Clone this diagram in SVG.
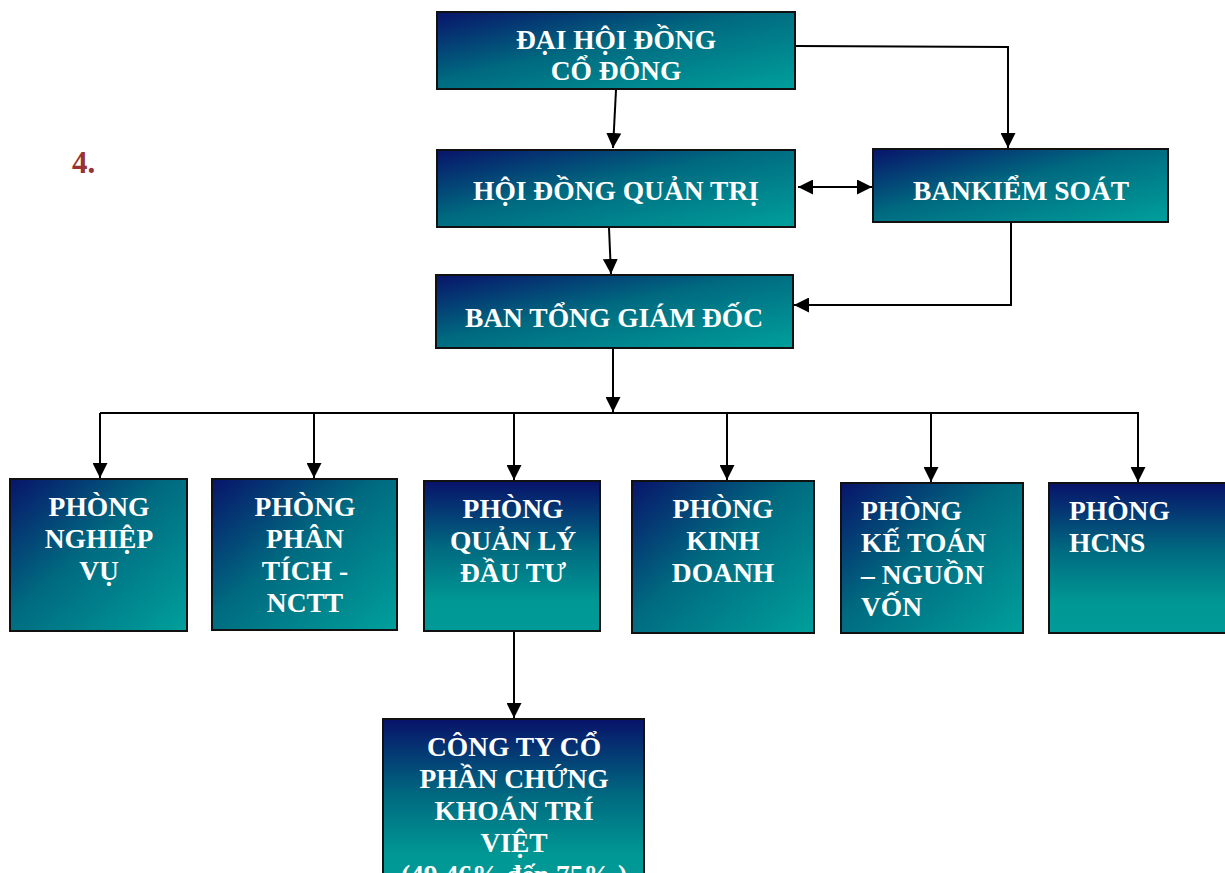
<svg xmlns="http://www.w3.org/2000/svg" width="1225" height="873" viewBox="0 0 1225 873">
<defs>
<linearGradient id="gd" x1="0" y1="0" x2="1" y2="1">
<stop offset="0" stop-color="#08146a"/>
<stop offset="0.45" stop-color="#006a80"/>
<stop offset="1" stop-color="#00a09c"/>
</linearGradient>
<linearGradient id="gv" x1="0" y1="0" x2="0" y2="1">
<stop offset="0" stop-color="#08126a"/>
<stop offset="0.45" stop-color="#006a80"/>
<stop offset="0.8" stop-color="#009894"/>
<stop offset="1" stop-color="#009a98"/>
</linearGradient>
<marker id="ah" viewBox="0 0 10 10" refX="10" refY="5" markerWidth="15" markerHeight="15" markerUnits="userSpaceOnUse" orient="auto-start-reverse">
<path d="M0,0 L10,5 L0,10 z" fill="#000"/>
</marker>
<style>
.bd{fill:url(#gd);stroke:#111;stroke-width:2}
.bv{fill:url(#gv);stroke:#111;stroke-width:2}
.t{font-family:"Liberation Serif","Times New Roman",serif;font-weight:bold;font-size:27.5px;fill:#fff}
.c{text-anchor:middle}
.ln{fill:none;stroke:#000;stroke-width:2}
</style>
</defs>
<rect width="1225" height="873" fill="#fff"/>
<text x="72" y="173" font-family="Liberation Serif, serif" font-weight="bold" font-size="31" fill="#993333">4.</text>
<g id="connectors">
<line class="ln" x1="616" y1="90" x2="613" y2="148" marker-end="url(#ah)"/>
<polyline class="ln" points="796,46 1008,47 1008,148" marker-end="url(#ah)"/>
<line class="ln" x1="798" y1="187" x2="872" y2="187" marker-start="url(#ah)" marker-end="url(#ah)"/>
<line class="ln" x1="609" y1="228" x2="611" y2="274" marker-end="url(#ah)"/>
<polyline class="ln" points="1011,222 1011,305 794,305" marker-end="url(#ah)"/>
<line class="ln" x1="613" y1="349" x2="613" y2="412" marker-end="url(#ah)"/>
<line class="ln" x1="100" y1="413" x2="1139" y2="413"/>
<line class="ln" x1="100" y1="413" x2="100" y2="478" marker-end="url(#ah)"/>
<line class="ln" x1="314" y1="413" x2="314" y2="478" marker-end="url(#ah)"/>
<line class="ln" x1="514" y1="413" x2="514" y2="480" marker-end="url(#ah)"/>
<line class="ln" x1="727" y1="413" x2="727" y2="480" marker-end="url(#ah)"/>
<line class="ln" x1="931" y1="413" x2="931" y2="482" marker-end="url(#ah)"/>
<line class="ln" x1="1138" y1="413" x2="1138" y2="482" marker-end="url(#ah)"/>
<line class="ln" x1="514" y1="632" x2="514" y2="718" marker-end="url(#ah)"/>
</g>
<g id="dhdcd">
<rect class="bd" x="437" y="12" width="358" height="77"/>
<text class="t c" x="616" y="49">ĐẠI HỘI ĐỒNG</text>
<text class="t c" x="616" y="80">CỔ ĐÔNG</text>
</g>
<g id="hdqt">
<rect class="bd" x="437" y="150" width="358" height="77"/>
<text class="t c" x="616" y="200">HỘI ĐỒNG QUẢN TRỊ</text>
</g>
<g id="bks">
<rect class="bd" x="873" y="149" width="295" height="73"/>
<text class="t c" x="1021" y="200">BANKIỂM SOÁT</text>
</g>
<g id="btgd">
<rect class="bd" x="436" y="275" width="357" height="73"/>
<text class="t c" x="614" y="327">BAN TỔNG GIÁM ĐỐC</text>
</g>
<g id="nghiepvu">
<rect class="bd" x="10" y="479" width="177" height="152"/>
<text class="t c" x="99" y="516">PHÒNG</text>
<text class="t c" x="99" y="548">NGHIỆP</text>
<text class="t c" x="99" y="580">VỤ</text>
</g>
<g id="phantich">
<rect class="bd" x="212" y="479" width="185" height="151"/>
<text class="t c" x="305" y="516">PHÒNG</text>
<text class="t c" x="305" y="548">PHÂN</text>
<text class="t c" x="305" y="580">TÍCH -</text>
<text class="t c" x="305" y="612">NCTT</text>
</g>
<g id="qldt">
<rect class="bv" x="424" y="481" width="176" height="150"/>
<text class="t c" x="513" y="518">PHÒNG</text>
<text class="t c" x="513" y="550">QUẢN LÝ</text>
<text class="t c" x="513" y="582">ĐẦU TƯ</text>
</g>
<g id="kinhdoanh">
<rect class="bd" x="632" y="481" width="182" height="152"/>
<text class="t c" x="723" y="518">PHÒNG</text>
<text class="t c" x="723" y="550">KINH</text>
<text class="t c" x="723" y="582">DOANH</text>
</g>
<g id="ketoan">
<rect class="bd" x="841" y="483" width="182" height="150"/>
<text class="t" x="861" y="520">PHÒNG</text>
<text class="t" x="861" y="552">KẾ TOÁN</text>
<text class="t" x="861" y="584">– NGUỒN</text>
<text class="t" x="861" y="616">VỐN</text>
</g>
<g id="hcns">
<rect class="bv" x="1049" y="483" width="180" height="150"/>
<text class="t" x="1069" y="520">PHÒNG</text>
<text class="t" x="1069" y="552">HCNS</text>
</g>
<g id="congty">
<rect class="bv" x="383" y="719" width="261" height="170"/>
<text class="t c" x="514" y="756">CÔNG TY CỔ</text>
<text class="t c" x="514" y="788">PHẦN CHỨNG</text>
<text class="t c" x="514" y="820">KHOÁN TRÍ</text>
<text class="t c" x="514" y="852">VIỆT</text>
<text class="t c" x="514" y="884">(49,46% đến 75% )</text>
</g>
</svg>
